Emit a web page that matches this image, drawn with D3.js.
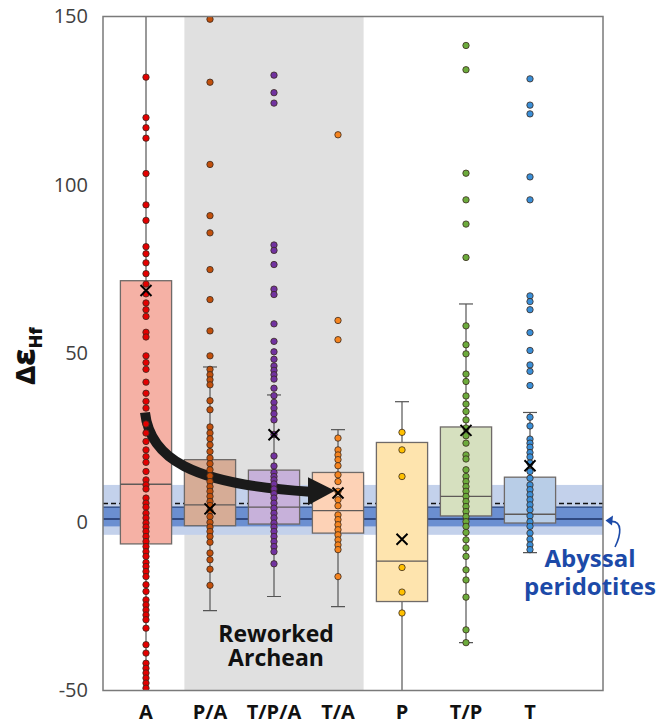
<!DOCTYPE html>
<html>
<head>
<meta charset="utf-8">
<script src="https://cdn.jsdelivr.net/npm/d3@7"></script>
<style>
  html, body { margin: 0; padding: 0; background: #fff; }
  svg { display: block; }
</style>
</head>
<body>
<svg id="chart" width="668" height="724"></svg>
<script>
// Groups along the x axis
const categories = ["A", "P/A", "T/P/A", "T/A", "P", "T/P", "T"];

// Box statistics per group (same order as categories)
const q1        = [-6.5, -1.1, -0.6, -3.3, -23.6, 1.8, -0.3];
const medians   = [11.2, 5.1, 4.4, 3.4, -11.6, 7.6, 2.3];
const q3        = [71.6, 18.5, 15.4, 14.7, 23.6, 28.2, 13.3];
const means     = [68.7, 3.9, 25.9, 8.6, -5.1, 27.2, 16.7];
const whiskerLo = [-70, -26.3, -22.1, -25.1, -70, -35.8, -9.1];
const whiskerHi = [180, 46.0, 37.7, 27.4, 35.7, 64.7, 32.5];

// Individual ΔεHf values per group
const ptsA = [132.0, 120.0, 117.0, 113.9, 103.4, 94.1, 89.5, 81.7, 79.6, 76.9, 73.7, 70.6, 67.7, 65.0,
  63.0, 61.0, 56.3, 54.9, 49.3, 47.3, 45.3, 41.5, 38.2, 35.8, 33.8, 29.1, 26.4, 23.9, 21.4, 19.4, 17.7,
  15.0, 12.5, 11.0, 9.8, 7.1, 5.6, 4.4, 2.6, 1.2, -0.3, -1.5, -2.8, -4.3, -5.8, -7.3, -8.8, -10.2,
  -12.0, -13.2, -14.7, -16.2, -18.6, -20.6, -23.1, -24.6, -26.1, -27.6, -29.0, -31.5, -36.4, -38.9,
  -41.9, -43.4, -44.8, -46.3, -47.8, -49.3, -51.0];
const ptsPA = [149.2, 130.5, 106.1, 90.9, 85.8, 74.9, 66.0, 56.7, 49.3, 45.3, 43.7, 42.2, 40.7, 36.0,
  33.3, 28.2, 26.4, 24.7, 22.9, 20.9, 19.0, 17.3, 15.5, 13.7, 12.0, 10.5, 9.1, 7.6, 6.1, 4.9, 3.3, 1.6,
  -0.1, -1.5, -2.8, -4.3, -6.0, -9.2, -11.2, -14.0, -18.8];
const ptsTPA = [132.6, 127.4, 124.3, 82.2, 80.6, 76.4, 69.1, 67.5, 58.8, 53.6, 50.5, 48.3, 46.3, 45.0,
  43.7, 42.4, 39.7, 37.5, 35.5, 33.8, 32.1, 30.3, 26.0, 19.6, 16.6, 14.7, 13.5, 12.5, 11.3, 9.8, 8.4,
  7.1, 5.6, 4.1, 2.6, 1.2, -0.3, -1.5, -2.8, -4.3, -5.8, -7.3, -8.8, -12.4];
const ptsTA = [114.9, 59.8, 54.1, 24.9, 21.4, 19.9, 18.5, 16.7, 14.0, 12.0, 9.1, 6.6, 4.8, 2.1, 0.7,
  -0.8, -2.3, -3.8, -5.3, -6.8, -8.2, -16.2];
const ptsP = [26.6, 21.4, 13.5, -13.5, -20.8, -27.0];
const ptsTP = [141.4, 134.2, 103.5, 95.6, 88.4, 78.5, 58.2, 52.6, 49.9, 43.9, 41.7, 37.4, 35.0, 32.8,
  30.3, 27.9, 25.6, 23.4, 19.9, 18.7, 15.5, 13.5, 12.0, 10.5, 9.1, 7.6, 6.1, 4.6, 3.1, 1.6, 0.1, -1.3,
  -3.1, -5.3, -7.7, -10.2, -14.2, -17.2, -22.3, -32.0, -35.8];
const ptsT = [131.5, 123.7, 121.1, 102.4, 95.6, 67.1, 65.4, 63.0, 56.2, 50.9, 46.6, 44.7, 40.5, 31.1,
  28.5, 24.6, 23.4, 22.2, 20.6, 19.3, 17.5, 15.0, 13.0, 11.0, 9.6, 8.1, 6.6, 5.1, 3.6, 1.8, 0.1, -1.3,
  -3.3, -5.1, -6.8, -8.2];
const points = [ptsA, ptsPA, ptsTPA, ptsTA, ptsP, ptsTP, ptsT];

// Abyssal peridotite reference envelope
const abyssalOuter = [-3.8, 11.0];
const abyssalInner = [-1.3, 4.4];
const abyssalLine = 0.9;
const abyssalMean = 5.5;

const yTicks = [-50, 0, 50, 100, 150];
const reworked = ["P/A", "T/P/A", "T/A"];

// Colours
const boxFill  = ["#f5b1a5", "#d6ac96", "#c7b1da", "#fdd2b6", "#fee4ae", "#d6e0bf", "#b8cde7"];
const dotFill  = ["#e30000", "#c2500c", "#7132a0", "#f5841f", "#ffc000", "#6cab3c", "#3a8fd8"];

const FONT = "'Open Sans', Lato, sans-serif";

const svg = d3.select("#chart");
const plot = { left: 103, right: 603, top: 16.5, bottom: 690.5 };

const y = d3.scaleLinear().domain([-50, 150]).range([plot.bottom, plot.top]);
const x = d3.scalePoint().domain(categories).range([146, 530]);
const step = x.step();
const boxHalf = step * 0.4;
const capHalf = 7;

svg.append("defs").append("clipPath").attr("id", "plotClip")
  .append("rect")
  .attr("x", plot.left).attr("y", plot.top)
  .attr("width", plot.right - plot.left).attr("height", plot.bottom - plot.top);

const g = svg.append("g").attr("clip-path", "url(#plotClip)");

// Reworked Archean shading
g.append("rect")
  .attr("x", x(reworked[0]) - boxHalf)
  .attr("y", plot.top)
  .attr("width", x(reworked[reworked.length - 1]) - x(reworked[0]) + 2 * boxHalf)
  .attr("height", plot.bottom - plot.top)
  .attr("fill", "#e0e0e0");

// Abyssal peridotite bands
g.append("rect")
  .attr("x", plot.left).attr("width", plot.right - plot.left)
  .attr("y", y(abyssalOuter[1])).attr("height", y(abyssalOuter[0]) - y(abyssalOuter[1]))
  .attr("fill", "#c3d1eb");
g.append("rect")
  .attr("x", plot.left).attr("width", plot.right - plot.left)
  .attr("y", y(abyssalInner[1])).attr("height", y(abyssalInner[0]) - y(abyssalInner[1]))
  .attr("fill", "#6b8fd1");
g.append("line")
  .attr("x1", plot.left).attr("x2", plot.right)
  .attr("y1", y(abyssalInner[1])).attr("y2", y(abyssalInner[1]))
  .attr("stroke", "#23407a").attr("stroke-width", 1.2);
g.append("line")
  .attr("x1", plot.left).attr("x2", plot.right)
  .attr("y1", y(abyssalLine)).attr("y2", y(abyssalLine))
  .attr("stroke", "#1d3266").attr("stroke-width", 1.4);
g.append("line")
  .attr("x1", plot.left).attr("x2", plot.right)
  .attr("y1", y(abyssalMean)).attr("y2", y(abyssalMean))
  .attr("stroke", "#111").attr("stroke-width", 1.6)
  .attr("stroke-dasharray", "5,3");

// Whiskers
categories.forEach((c, i) => {
  const cx = x(c);
  const wg = g.append("g").attr("stroke", "#555").attr("stroke-width", 1.2);
  wg.append("line").attr("x1", cx).attr("x2", cx).attr("y1", y(q3[i])).attr("y2", y(whiskerHi[i]));
  wg.append("line").attr("x1", cx).attr("x2", cx).attr("y1", y(q1[i])).attr("y2", y(whiskerLo[i]));
  wg.append("line").attr("x1", cx - capHalf).attr("x2", cx + capHalf)
    .attr("y1", y(whiskerHi[i])).attr("y2", y(whiskerHi[i]));
  wg.append("line").attr("x1", cx - capHalf).attr("x2", cx + capHalf)
    .attr("y1", y(whiskerLo[i])).attr("y2", y(whiskerLo[i]));
});

// Boxes and medians
categories.forEach((c, i) => {
  const cx = x(c);
  g.append("rect")
    .attr("x", cx - boxHalf).attr("width", 2 * boxHalf)
    .attr("y", y(q3[i])).attr("height", y(q1[i]) - y(q3[i]))
    .attr("fill", boxFill[i]).attr("stroke", "#6f6a68").attr("stroke-width", 1.3);
  g.append("line")
    .attr("x1", cx - boxHalf).attr("x2", cx + boxHalf)
    .attr("y1", y(medians[i])).attr("y2", y(medians[i]))
    .attr("stroke", "#5f5a58").attr("stroke-width", 1.3);
});

// Curved arrow from the Archean group to the reworked T/A group
const aStart = [x("A") - 1, y(32.5)];
const aEnd = [x("T/A") - 28, y(9.0)];
const tip = [x("T/A") - 3, y(9.3)];
const arrowPath = d3.path();
arrowPath.moveTo(aStart[0], aStart[1]);
arrowPath.bezierCurveTo(aStart[0] + 5, aStart[1] + 45, aStart[0] + 45, aStart[1] + 72, aEnd[0], aEnd[1]);
g.append("path").attr("d", arrowPath.toString())
  .attr("fill", "none").attr("stroke", "#1a1a1a").attr("stroke-width", 10);
g.append("path")
  .attr("d", `M${tip[0]},${tip[1]} L${aEnd[0] - 2},${aEnd[1] - 14.5} L${aEnd[0] - 2},${aEnd[1] + 13.5} Z`)
  .attr("fill", "#1a1a1a");

// Individual analyses
categories.forEach((c, i) => {
  g.append("g").selectAll("circle").data(points[i]).join("circle")
    .attr("cx", x(c)).attr("cy", d => y(d)).attr("r", 3.2)
    .attr("fill", dotFill[i]).attr("stroke", "#3a2a20").attr("stroke-width", 0.8);
});

// Means
categories.forEach((c, i) => {
  const cx = x(c), cy = y(means[i]), s = 5.5;
  g.append("path")
    .attr("d", `M${cx - s},${cy - s}L${cx + s},${cy + s}M${cx - s},${cy + s}L${cx + s},${cy - s}`)
    .attr("stroke", "#000").attr("stroke-width", 2).attr("fill", "none");
});

// Plot frame
svg.append("rect")
  .attr("x", plot.left).attr("y", plot.top)
  .attr("width", plot.right - plot.left).attr("height", plot.bottom - plot.top)
  .attr("fill", "none").attr("stroke", "#7a7a7a").attr("stroke-width", 1.5);

// Y axis labels
const yAxis = svg.append("g").attr("transform", `translate(${plot.left},0)`)
  .call(d3.axisLeft(y).tickValues(yTicks).tickSize(0).tickPadding(15).tickFormat(d => String(d)));
yAxis.select(".domain").remove();
yAxis.selectAll("text")
  .attr("font-family", FONT)
  .attr("font-size", 20).attr("fill", "#404040");

// X category labels
svg.append("g").selectAll("text").data(categories).join("text")
  .attr("x", d => x(d)).attr("y", 718.5)
  .attr("text-anchor", "middle")
  .attr("font-family", FONT)
  .attr("font-weight", 700).attr("font-size", 20).attr("fill", "#111")
  .text(d => d);

// Y title: Δε with Hf subscript
const yTitle = svg.append("text")
  .attr("transform", "translate(35,356) rotate(-90)")
  .attr("text-anchor", "middle")
  .attr("font-family", FONT)
  .attr("font-weight", 800).attr("fill", "#111");
yTitle.append("tspan").attr("font-size", 27).text("Δ");
yTitle.append("tspan").attr("font-size", 31).text("ε");
yTitle.append("tspan").attr("font-size", 18).attr("dy", 7).text("Hf");

// Reworked Archean caption
const rwx = (x("P/A") + x("T/A")) / 2 + 2;
svg.append("text")
  .attr("x", rwx).attr("y", 642)
  .attr("text-anchor", "middle")
  .attr("font-family", FONT)
  .attr("font-weight", 700).attr("font-size", 23).attr("fill", "#111")
  .selectAll("tspan").data(["Reworked", "Archean"]).join("tspan")
  .attr("x", rwx).attr("dy", (d, i) => i === 0 ? 0 : 23.5).text(d => d);

// Abyssal peridotites annotation
svg.append("text")
  .attr("x", 590).attr("y", 567)
  .attr("text-anchor", "middle")
  .attr("font-family", FONT)
  .attr("font-weight", 700).attr("font-size", 24).attr("fill", "#1c4aa8")
  .selectAll("tspan").data(["Abyssal", "peridotites"]).join("tspan")
  .attr("x", 590).attr("dy", (d, i) => i === 0 ? 0 : 28).text(d => d);

const bandEdge = y(abyssalInner[0]) - 6;
svg.append("path")
  .attr("d", `M615,547 C621,535 623,521 611,${bandEdge + 1}`)
  .attr("fill", "none").attr("stroke", "#1c4aa8").attr("stroke-width", 1.6);
svg.append("path")
  .attr("d", `M605.5,${bandEdge} L613,${bandEdge - 5} L612,${bandEdge + 5} Z`)
  .attr("fill", "#1c4aa8");
</script>
</body>
</html>
